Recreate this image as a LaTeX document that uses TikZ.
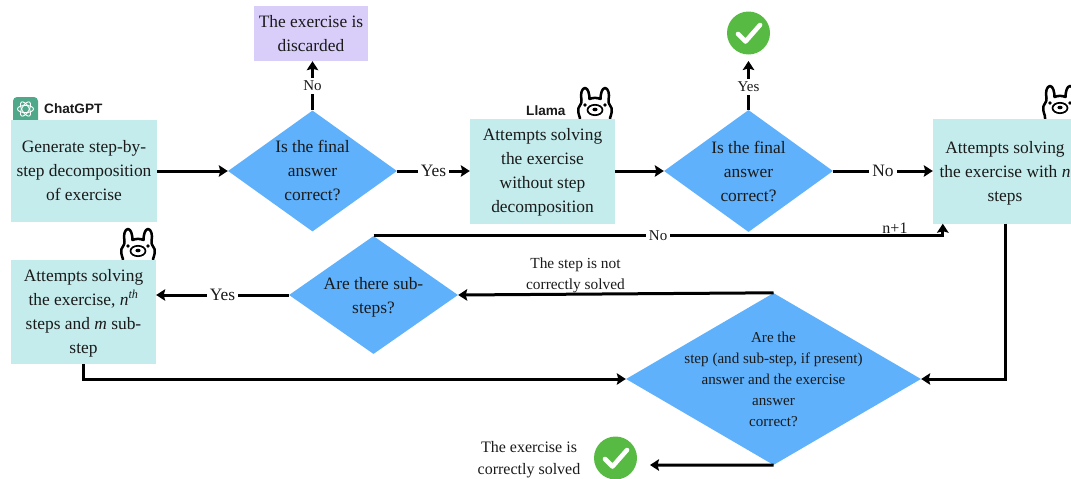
\documentclass[tikz,border=0pt]{standalone}
\usepackage{fontspec}
\setmainfont{Liberation Serif}
\newfontfamily\logofont{Liberation Sans}
\usetikzlibrary{shapes.geometric,arrows.meta,calc}
\definecolor{boxc}{HTML}{C4ECEC}
\definecolor{purp}{HTML}{D9CDFA}
\definecolor{diac}{HTML}{5FB1FB}
\definecolor{okc}{HTML}{57BA42}
\definecolor{gptc}{HTML}{4FA88A}
\definecolor{inkc}{HTML}{1A1A1A}
\newcommand{\toppad}[1]{\rule{0pt}{#1}}
\tikzset{
  x=1pt,y=-1pt,
  flow/.style={draw=black,line width=3pt,-{Stealth[length=9pt,width=11.5pt,inset=1.5pt]}},
  boxn/.style={fill=boxc,inner sep=0pt,align=center,text=inkc,font=\fontsize{17.4}{24}\selectfont},
  dia/.style={diamond,fill=diac,inner sep=0pt},
  dtext/.style={align=center,text=inkc,inner sep=0pt,font=\fontsize{17.4}{24}\selectfont},
  ltext/.style={align=center,text=inkc,inner sep=0pt,font=\fontsize{16}{22}\selectfont},
  lab/.style={fill=white,inner sep=3pt,text=inkc,font=\fontsize{17.4}{20}\selectfont},
  labs/.style={fill=white,inner sep=3pt,text=inkc,font=\fontsize{15}{18}\selectfont},
  brand/.style={inner sep=0pt,text=inkc,font=\logofont\bfseries\fontsize{13.6}{16}\selectfont},
  okdisc/.style={circle,fill=okc,inner sep=0pt,minimum size=43pt},
  tick/.style={draw=white,line width=4.6pt,line cap=round,line join=round},
  llama/.pic={
    \draw[line width=2.5pt,fill=white,line join=round]
      (-15,34) .. controls (-14,30) and (-18,27) .. (-16.5,21)
      .. controls (-15.5,18) and (-13,17) .. (-13.5,13)
      .. controls (-15,7) and (-13,1) .. (-10,1)
      .. controls (-7,1) and (-5.5,7) .. (-5.5,12)
      .. controls (-2,10.5) and (2,10.5) .. (5.5,12)
      .. controls (5.5,7) and (7,1) .. (10,1)
      .. controls (13,1) and (15,7) .. (13.5,13)
      .. controls (13,17) and (15.5,18) .. (16.5,21)
      .. controls (18,27) and (14,30) .. (15,34);
    \fill (-10,18) circle (1.9);
    \fill (10,18) circle (1.9);
    \draw[line width=1.7pt] (0,23) ellipse (7.5 and 5.2);
    \fill (0,22.5) ellipse (2.6 and 1.8);
  },
}
\begin{document}
\begin{tikzpicture}
\useasboundingbox (0,0) rectangle (1071,479);
% mascots and logo sit behind the boxes
\pic at (595,87) {llama};
\pic at (138,228) {llama};
\pic at (1060,85) {llama};
\fill[gptc,rounded corners=4pt] (13,97) rectangle (38,124);
\begin{scope}[shift={(25.5,109)}]
  \foreach \a in {0,60,120}
    \draw[white,line width=.9pt,rotate=\a] (0,0) ellipse (8 and 3.6);
\end{scope}
\node[brand,anchor=west] (gpt) at (44,109) {ChatGPT};
\node[brand,anchor=west] (llm) at (526,111) {Llama};

\node[boxn,minimum width=146pt,minimum height=102pt] (a) at (84,171)
  {Generate step-by-\\step decomposition\\of exercise};
\node[fill=purp,inner sep=0pt,minimum width=114pt,minimum height=55pt,align=center,text=inkc,font=\fontsize{17.4}{24}\selectfont] (p) at (311,33.5)
  {The exercise is\\discarded};
\node[boxn,minimum width=145pt,minimum height=105pt] (b) at (542.5,171)
  {\toppad{15pt}Attempts solving\\the exercise\\without step\\decomposition};
\node[boxn,minimum width=144pt,minimum height=105pt] (c) at (1005,171)
  {\toppad{16pt}Attempts solving\\the exercise with \textit{n}\\steps};
\node[boxn,minimum width=145pt,minimum height=104pt] (e) at (83.5,312)
  {\toppad{14pt}Attempts solving\\the exercise, \textit{n\textsuperscript{th}}\\steps and \textit{m} sub-\\step};

\node[dia,shape aspect=1.4,minimum width=169pt,minimum height=121pt] (d1) at (312.5,171) {};
\node[dtext,yshift=1pt] (d1t) at (d1) {Is the final\\answer\\correct?};
\node[dia,shape aspect=1.4,minimum width=169pt,minimum height=122pt] (d2) at (748.5,171) {};
\node[dtext] (d2t) at (d2) {Is the final\\answer\\correct?};
\node[dia,shape aspect=1.43,minimum width=169pt,minimum height=118pt] (d3) at (373.5,295) {};
\node[dtext,yshift=-2pt] (d3t) at (d3) {Are there sub-\\steps?};
\node[dia,shape aspect=1.72,minimum width=295pt,minimum height=172pt] (d4) at (773.5,379) {};
\node[ltext,font=\fontsize{15.1}{21}\selectfont] (d4t) at (d4) {Are the\\step (and sub-step, if present)\\answer and the exercise\\answer\\correct?};

\node[okdisc] (ok1) at (748.5,33) {};
\draw[tick] (738,34) -- (745.5,41.5) -- (760,25);
\node[okdisc] (ok2) at (615.5,458) {};
\draw[tick] (605,459) -- (612.5,466.5) -- (627,450);
\node[ltext] (okt) at (529,460) {The exercise is\\correctly solved};
\node[ltext,font=\fontsize{15.4}{21}\selectfont] (st) at (575.5,275.5) {The step is not\\correctly solved};

\coordinate (okin1) at (748.5,61);
\coordinate (okin2) at (650,465);
\coordinate (cin) at ($(c.south west)+(10,0)$);

\draw[flow] (a.east) -- (d1.west);
\draw[flow] (d1.north) -- node[labs,pos=.5] {No} (d1.north |- p.south);
\draw[flow] (d1.east) -- node[lab] {Yes} (b.west);
\draw[flow] (b.east) -- (d2.west);
\draw[flow] (d2.north) -- node[labs,pos=.47] {Yes} (okin1);
\draw[flow] (d2.east) -- node[lab] {No} (c.west);
\draw[flow] (d3.north) -- node[labs,pos=.5] {No} node[ltext,pos=.916,above=1pt] (np) {n+1} (d3.north -| cin) -- (cin);
\draw[flow] (c.south) |- (d4.east);
\draw[flow] (d4.north) -- (d3.east);
\draw[flow] (d3.west) -- node[lab] {Yes} (d3.west -| e.east);
\draw[flow] (e.south) |- (d4.west);
\draw[flow] (d4.south) -- (okin2);
\end{tikzpicture}
\end{document}
